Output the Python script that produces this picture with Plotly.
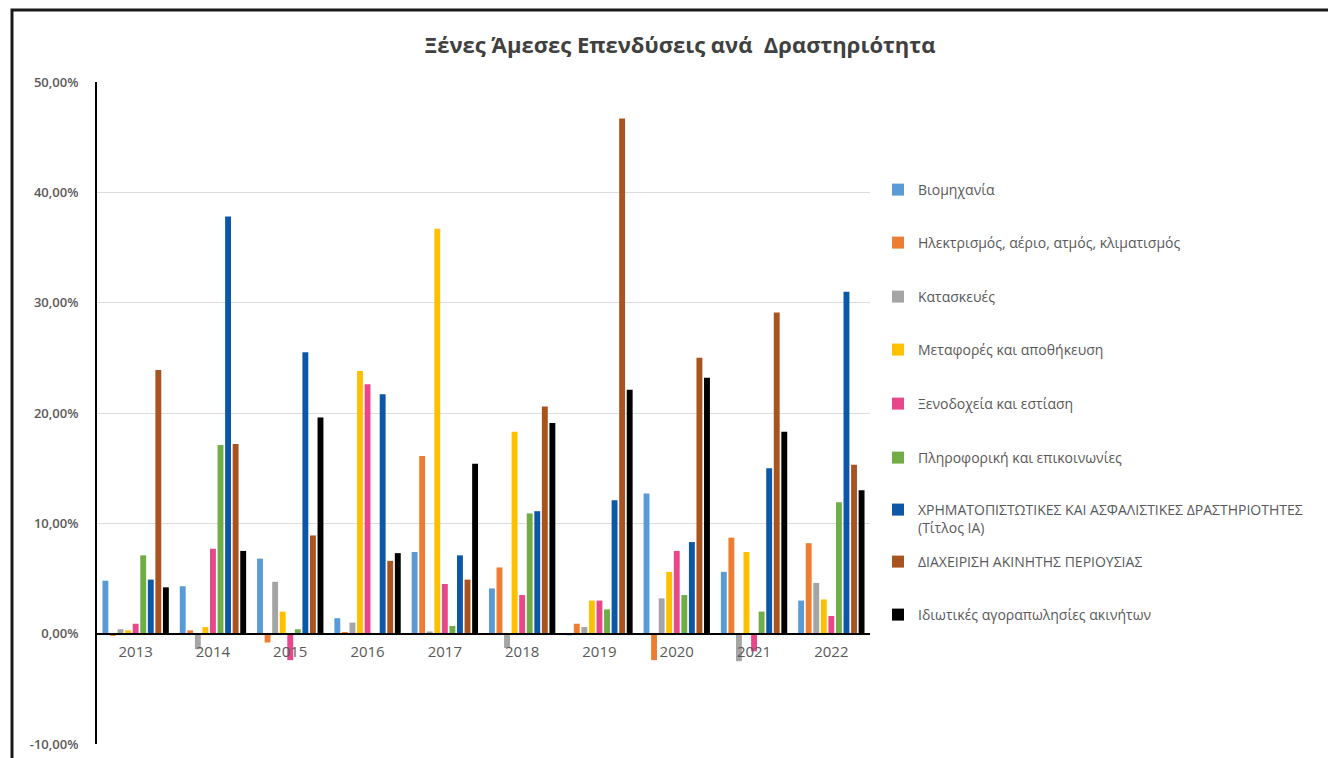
import plotly.graph_objects as go

years = ['2013', '2014', '2015', '2016', '2017', '2018', '2019', '2020', '2021', '2022']

series_names = [
    'Βιομηχανία',
    'Ηλεκτρισμός, αέριο, ατμός, κλιματισμός',
    'Κατασκευές',
    'Μεταφορές και αποθήκευση',
    'Ξενοδοχεία και εστίαση',
    'Πληροφορική και επικοινωνίες',
    'ΧΡΗΜΑΤΟΠΙΣΤΩΤΙΚΕΣ ΚΑΙ ΑΣΦΑΛΙΣΤΙΚΕΣ ΔΡΑΣΤΗΡΙΟΤΗΤΕΣ<br>(Τίτλος ΙΑ)',
    'ΔΙΑΧΕΙΡΙΣΗ ΑΚΙΝΗΤΗΣ ΠΕΡΙΟΥΣΙΑΣ',
    'Ιδιωτικές αγοραπωλησίες ακινήτων',
]

viomixania = [4.8, 4.3, 6.8, 1.4, 7.4, 4.1, -0.15, 12.7, 5.6, 3.0]
ilektrismos = [-0.2, 0.3, -0.8, 0.1, 16.1, 6.0, 0.9, -2.4, 8.7, 8.2]
kataskeues = [0.4, -1.4, 4.7, 1.0, 0.2, -1.3, 0.6, 3.2, -2.5, 4.6]
metafores = [0.3, 0.6, 2.0, 23.8, 36.7, 18.3, 3.0, 5.6, 7.4, 3.1]
xenodoxeia = [0.9, 7.7, -2.4, 22.6, 4.5, 3.5, 3.0, 7.5, -1.6, 1.6]
pliroforiki = [7.1, 17.1, 0.4, 0.05, 0.7, 10.9, 2.2, 3.5, 2.0, 11.9]
xrimatopistotikes = [4.9, 37.8, 25.5, 21.7, 7.1, 11.1, 12.1, 8.3, 15.0, 31.0]
diaxeirisi = [23.9, 17.2, 8.9, 6.6, 4.9, 20.6, 46.7, 25.0, 29.1, 15.3]
idiotikes = [4.2, 7.5, 19.6, 7.3, 15.4, 19.1, 22.1, 23.2, 18.3, 13.0]

all_values = [viomixania, ilektrismos, kataskeues, metafores, xenodoxeia,
              pliroforiki, xrimatopistotikes, diaxeirisi, idiotikes]

colors = ['#5B9BD5', '#ED7D31', '#A5A5A5', '#FFC000', '#E8488A',
          '#70AD47', '#0B57A8', '#A9531F', '#000000']

ytick_vals = [-10, 0, 10, 20, 30, 40, 50]
ytick_text = [f'{v:.2f}%'.replace('.', ',') for v in ytick_vals]

# page body has an 8px default margin; work in screenshot pixels and offset
OFF = 8
SW, SH = 1336, 758
W, H = SW - OFF, SH - OFF

# plot area in screenshot pixels
PL, PR, PT, PB = 97, 870, 82, 744
L = PL - OFF
R = W - (PR - OFF)
T = PT - OFF
B = H - (PB - OFF)
pw = W - L - R
ph = H - T - B


def px_x(x):
    return (x - OFF - L) / pw


def px_y(y):
    return (H - B - (y - OFF)) / ph


legend_rows = [190, 243, 297, 350, 404, 458, 507, 562, 615]
FONT = 'Open Sans, DejaVu Sans, sans-serif'

fig = go.Figure()
layout_legends = {}
for i, (name, vals, col) in enumerate(zip(series_names, all_values, colors)):
    lname = 'legend' if i == 0 else f'legend{i + 1}'
    fig.add_trace(go.Bar(
        x=years, y=vals, name=name, marker_color=col,
        marker_line_width=0, legend=lname,
    ))
    layout_legends[lname] = dict(
        x=px_x(878), xanchor='left',
        y=px_y(legend_rows[i]), yanchor='middle' if i != 6 else 'top',
        font=dict(size=14, color='#595959', family=FONT),
        itemwidth=30, bgcolor='rgba(0,0,0,0)', valign='top',
        borderwidth=0,
    )

# the two-line legend item: first line sits on its row
layout_legends['legend7']['y'] = px_y(legend_rows[6] - 13)

fig.update_layout(
    width=W, height=H,
    margin=dict(l=L, r=R, t=T, b=B, autoexpand=False),
    paper_bgcolor='white', plot_bgcolor='white',
    barmode='group', bargap=0.12, bargroupgap=0.22,
    font=dict(family=FONT, color='#595959', size=12),
    title=dict(
        text='<b>Ξένες Άμεσες Επενδύσεις ανά  Δραστηριότητα</b>',
        x=(680 - OFF) / W, xanchor='center', xref='container',
        y=1 - (45 - OFF) / H, yanchor='middle', yref='container',
        font=dict(size=22, color='#404040', family=FONT),
    ),
    xaxis=dict(
        type='category', anchor='free', position=10 / 60,
        showline=True, linecolor='#000000', linewidth=2,
        showgrid=False, ticks='', ticklabelstandoff=4,
        tickfont=dict(size=15, color='#595959', family=FONT),
    ),
    yaxis=dict(
        range=[-10, 50], tickvals=ytick_vals, ticktext=ytick_text,
        showline=True, linecolor='#000000', linewidth=2,
        showgrid=True, gridcolor='#DCDCDC', gridwidth=1,
        zeroline=False, ticks='', ticklabelstandoff=14,
        tickfont=dict(size=13, color='#595959', family=FONT, weight=600),
    ),
    showlegend=True,
    **layout_legends,
)

# outer frame border
fig.add_shape(
    type='rect', xref='paper', yref='paper',
    x0=px_x(12), x1=px_x(SW + 5), y0=px_y(SH + 5), y1=px_y(10),
    line=dict(color='#1a1a1a', width=3), fillcolor='rgba(0,0,0,0)', layer='below',
)

fig.write_html('out.html')
